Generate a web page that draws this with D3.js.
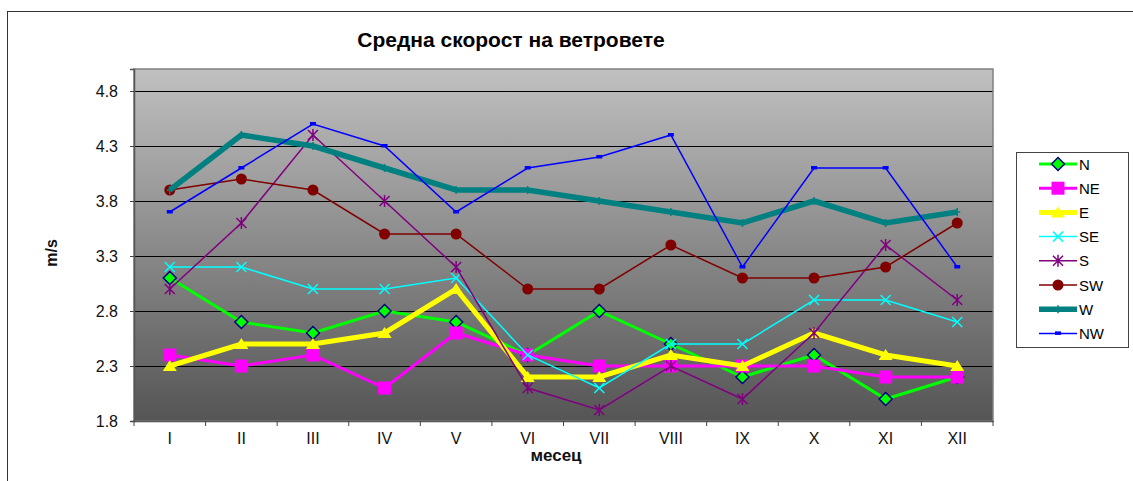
<!DOCTYPE html>
<html><head><meta charset="utf-8">
<script src="https://cdn.jsdelivr.net/npm/d3@7"></script>
<style>body{margin:0;background:#fff}svg{display:block;font-family:"Liberation Sans",Arial,sans-serif}</style>
</head><body><svg id="c" width="1133" height="481"></svg>
<script>
const months = ["I","II","III","IV","V","VI","VII","VIII","IX","X","XI","XII"];
const yTicks = [1.8,2.3,2.8,3.3,3.8,4.3,4.8];
const N  = [3.1,2.7,2.6,2.8,2.7,2.4,2.8,2.5,2.2,2.4,2.0,2.2];
const NE = [2.4,2.3,2.4,2.1,2.6,2.4,2.3,2.3,2.3,2.3,2.2,2.2];
const E  = [2.3,2.5,2.5,2.6,3.0,2.2,2.2,2.4,2.3,2.6,2.4,2.3];
const SE = [3.2,3.2,3.0,3.0,3.1,2.4,2.1,2.5,2.5,2.9,2.9,2.7];
const S  = [3.0,3.6,4.4,3.8,3.2,2.1,1.9,2.3,2.0,2.6,3.4,2.9];
const SW = [3.9,4.0,3.9,3.5,3.5,3.0,3.0,3.4,3.1,3.1,3.2,3.6];
const W  = [3.9,4.4,4.3,4.1,3.9,3.9,3.8,3.7,3.6,3.8,3.6,3.7];
const NW = [3.7,4.1,4.5,4.3,3.7,4.1,4.2,4.4,3.2,4.1,4.1,3.2];
const seriesNames = ["N","NE","E","SE","S","SW","W","NW"];
const seriesValues = [N,NE,E,SE,S,SW,W,NW];

const styles = {
  N:{color:"#00ff00",w:3,m:"diamond"},
  NE:{color:"#ff00ff",w:3,m:"square"},
  E:{color:"#ffff00",w:5,m:"triangle"},
  SE:{color:"#00ffff",w:1.5,m:"x"},
  S:{color:"#800080",w:1.5,m:"star"},
  SW:{color:"#800000",w:1.5,m:"circle"},
  W:{color:"#008080",w:5.5,m:"plus"},
  NW:{color:"#0000ff",w:1.5,m:"dash"}
};

const svg = d3.select("#c");
const L=134,T=69,R=993,B=421;
svg.append("rect").attr("x",7.5).attr("y",11.5).attr("width",1140).attr("height",480).attr("fill","none").attr("stroke","#333").attr("stroke-width",1);

const x = d3.scaleBand().domain(months).range([L,R]);
const y = d3.scaleLinear().domain([1.8,5.0]).range([B,T]);

const defs = svg.append("defs");
const g = defs.append("linearGradient").attr("id","bg").attr("x1",0).attr("y1",0).attr("x2",0).attr("y2",1);
g.append("stop").attr("offset","0%").attr("stop-color","#c0c0c0");
g.append("stop").attr("offset","100%").attr("stop-color","#555555");
svg.append("rect").attr("x",L).attr("y",T).attr("width",R-L).attr("height",B-T).attr("fill","url(#bg)");

svg.append("g").selectAll("line").data(yTicks.slice(1)).join("line")
  .attr("x1",L).attr("x2",R).attr("y1",d=>Math.round(y(d))+0.5).attr("y2",d=>Math.round(y(d))+0.5)
  .attr("stroke","#000").attr("stroke-width",1);
svg.append("rect").attr("x",L).attr("y",T).attr("width",R-L).attr("height",B-T).attr("fill","none").attr("stroke","#808080").attr("stroke-width",1.5);

const yAxis = d3.axisLeft(y).tickValues(yTicks).tickFormat(d3.format(".1f")).tickSize(4).tickPadding(12);
const ya = svg.append("g").attr("transform",`translate(${L},0)`).call(yAxis);
ya.select(".domain").attr("stroke","#555").attr("stroke-width",1.5);
ya.selectAll(".tick line").attr("stroke","#444");
ya.selectAll("text").attr("font-size",16).attr("fill","#111").attr("font-family","Liberation Sans, Arial");

const xAxis = d3.axisBottom(x).tickSize(0).tickPadding(12);
const xa = svg.append("g").attr("transform",`translate(0,${B})`).call(xAxis);
xa.select(".domain").attr("stroke","#555").attr("stroke-width",1.5);
xa.selectAll("text").attr("font-size",16).attr("fill","#111").attr("font-family","Liberation Sans, Arial");
xa.append("g").selectAll("line").data(d3.range(13)).join("line")
  .attr("x1",i=>L+i*x.step()).attr("x2",i=>L+i*x.step()).attr("y1",0).attr("y2",5)
  .attr("stroke","#444").attr("stroke-width",1);

svg.append("text").attr("x",511).attr("y",47).attr("text-anchor","middle").attr("font-size",21).attr("font-weight","bold").attr("fill","#000").text("Средна скорост на ветровете");
svg.append("text").attr("x",556).attr("y",461).attr("text-anchor","middle").attr("font-size",17).attr("font-weight","bold").attr("fill","#111").text("месец");
svg.append("text").attr("transform","translate(57,253) rotate(-90)").attr("text-anchor","middle").attr("font-size",16).attr("font-weight","bold").attr("fill","#111").text("m/s");

function marker(sel, type, color){
  if(type==="diamond") sel.append("path").attr("d","M0,-6.5L6.5,0L0,6.5L-6.5,0Z").attr("fill",color).attr("stroke","#000080").attr("stroke-width",1.5);
  else if(type==="square") sel.append("rect").attr("x",-6.5).attr("y",-6.5).attr("width",13).attr("height",13).attr("fill",color);
  else if(type==="triangle") sel.append("path").attr("d","M0,-6L7,5L-7,5Z").attr("fill",color);
  else if(type==="x") sel.append("path").attr("d","M-5,-5L5,5M-5,5L5,-5").attr("stroke",color).attr("stroke-width",1.5).attr("fill","none");
  else if(type==="star") sel.append("path").attr("d","M-5,-5L5,5M-5,5L5,-5M0,-6L0,6").attr("stroke",color).attr("stroke-width",1.5).attr("fill","none");
  else if(type==="circle") sel.append("circle").attr("r",5.5).attr("fill",color);
  else if(type==="plus") sel.append("path").attr("d","M-3,0L3,0M0,-4L0,4").attr("stroke",color).attr("stroke-width",1.5).attr("fill","none");
  else if(type==="dash") sel.append("rect").attr("x",-3).attr("y",-2).attr("width",6).attr("height",3.5).attr("fill",color);
}

const line = d3.line().x((d,i)=>x(months[i])+x.bandwidth()/2).y(d=>y(d));
seriesNames.forEach((name,k)=>{
  const st = styles[name];
  const vals = seriesValues[k];
  const gg = svg.append("g");
  gg.append("path").attr("d",line(vals)).attr("fill","none").attr("stroke",st.color).attr("stroke-width",st.w).attr("stroke-linejoin","miter");
  vals.forEach((v,i)=>{
    const mg = gg.append("g").attr("transform",`translate(${x(months[i])+x.bandwidth()/2},${y(v)})`);
    marker(mg, st.m, st.color);
  });
});

const lg = svg.append("g");
lg.append("rect").attr("x",1016.5).attr("y",152.5).attr("width",112).attr("height",195).attr("fill","#fff").attr("stroke","#444").attr("stroke-width",1);
seriesNames.forEach((name,k)=>{
  const st = styles[name];
  const yy = 164 + k*24.2;
  lg.append("line").attr("x1",1039).attr("x2",1077).attr("y1",yy).attr("y2",yy).attr("stroke",st.color).attr("stroke-width",st.w);
  const mg = lg.append("g").attr("transform",`translate(1058,${yy})`);
  marker(mg, st.m, st.color);
  lg.append("text").attr("x",1079).attr("y",yy+5.5).attr("font-size",15).attr("fill","#000").text(name);
});
</script></body></html>
